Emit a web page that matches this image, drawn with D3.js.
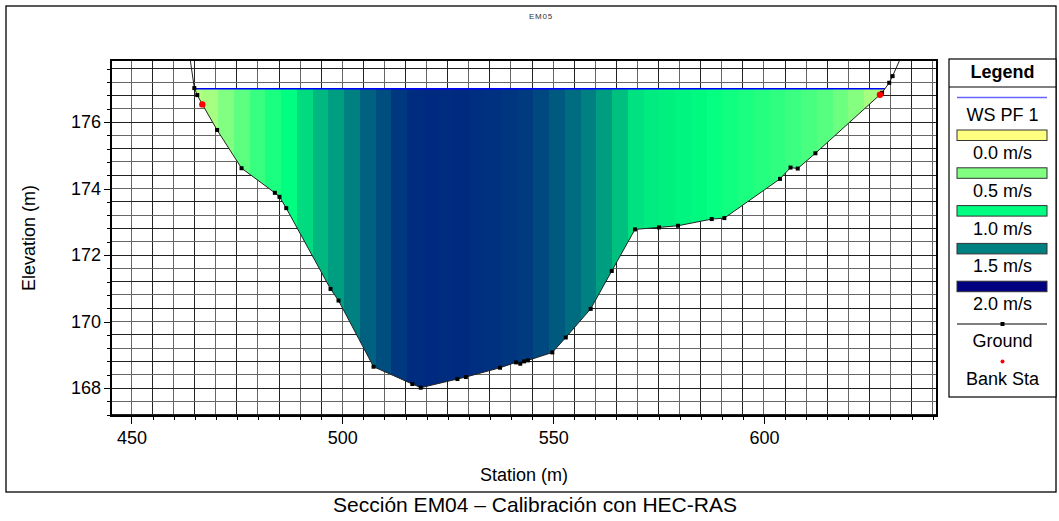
<!DOCTYPE html>
<html>
<head>
<meta charset="utf-8">
<script src="https://cdn.jsdelivr.net/npm/d3@7"></script>
<style>
  html, body { margin: 0; padding: 0; background: #fff; }
  svg { display: block; font-family: "Liberation Sans", Arial, sans-serif; }
</style>
</head>
<body>
<svg id="chart" width="1059" height="521"></svg>
<script>
// Cross-section EM04: ground survey points (station m, elevation m)
const groundStation = [463.1, 464.9, 465.6, 466.8, 470.3, 476.1, 484.0, 485.1, 486.7, 497.2,
  499.1, 507.4, 516.6, 518.6, 527.3, 529.3, 537.4, 541.2, 542.2, 543.1, 544.0, 549.8, 553.0,
  558.9, 563.9, 569.4, 575.1, 579.6, 587.6, 590.6, 603.8, 606.3, 608.0, 612.2, 627.5, 628.0,
  629.7, 630.5, 634.4];
const groundElev = [178.6, 177.02, 176.81, 176.53, 175.76, 174.61, 173.87, 173.75, 173.41, 170.98,
  170.63, 168.64, 168.12, 168.01, 168.27, 168.33, 168.61, 168.77, 168.73, 168.80, 168.83, 169.07, 169.52,
  170.38, 171.52, 172.77, 172.83, 172.88, 173.08, 173.11, 174.29, 174.63, 174.60, 175.06, 176.82, 176.88,
  177.18, 177.38, 178.5];

// Bank stations (left, right) and water surface for profile PF 1
const bankStations = [466.8, 627.5];
const waterSurface = 177.0;

// Velocity per flow slice: left overbank, 43 channel slices, right overbank (m/s)
const sliceVelocity = [0.30,
  0.35, 0.50, 0.64, 0.78, 0.90, 1.00, 1.14, 1.28, 1.38, 1.50, 1.62, 1.70, 1.78, 1.83, 1.84,
  1.83, 1.84, 1.82, 1.81, 1.79, 1.77, 1.72, 1.65, 1.58, 1.50, 1.38, 1.25, 1.12, 1.08, 1.06,
  1.04, 1.02, 0.98, 0.94, 0.90, 0.86, 0.82, 0.77, 0.72, 0.66, 0.58, 0.48, 0.35,
  0.15];

// Colour ramp stops
const rampValues = [0.0, 0.5, 1.0, 1.5, 2.0];
const rampColors = ["#ffff80", "#80ff80", "#00ff80", "#008080", "#000080"];

// Axis ticks
const xMajorTicks = [450, 500, 550, 600];
const yMajorTicks = [168, 170, 172, 174, 176];

const ground = groundStation.map((s, i) => ({ s, z: groundElev[i] }));

const svg = d3.select("#chart");
const plot = { left: 111, right: 937, top: 60, bottom: 416 };

const x = d3.scaleLinear().domain([445.14, 641.03]).range([plot.left, plot.right]);
const y = d3.scaleLinear().domain([167.158, 177.865]).range([plot.bottom, plot.top]);
const color = d3.scaleLinear().domain(rampValues).range(rampColors);

// outer frame
svg.append("rect").attr("x", 6).attr("y", 6).attr("width", 1050).attr("height", 486)
  .attr("fill", "none").attr("stroke", "#000").attr("stroke-width", 1.3);

// small title
svg.append("text").attr("x", 541).attr("y", 19).attr("text-anchor", "middle")
  .attr("font-size", 8).attr("letter-spacing", 0.8).attr("fill", "#333").text("EM05");

// clip for plot area
const defs = svg.append("defs");
defs.append("clipPath").attr("id", "plotClip").append("rect")
  .attr("x", plot.left).attr("y", plot.top)
  .attr("width", plot.right - plot.left).attr("height", plot.bottom - plot.top);

// grid
const grid = svg.append("g").attr("shape-rendering", "crispEdges");
const xGrid = d3.range(450, 641, 5);
const yGrid = d3.range(0, 27).map(i => +(167.2 + i * 0.4).toFixed(1)).filter(v => v < 177.86);
grid.selectAll(".vg").data(xGrid).join("line")
  .attr("x1", d => x(d)).attr("x2", d => x(d)).attr("y1", plot.top).attr("y2", plot.bottom)
  .attr("stroke", (d, i) => (i % 2 ? "#222" : "#666")).attr("stroke-width", 1);
grid.selectAll(".hg").data(yGrid).join("line")
  .attr("y1", d => y(d)).attr("y2", d => y(d)).attr("x1", plot.left).attr("x2", plot.right)
  .attr("stroke", (d, i) => (i % 2 ? "#666" : "#222")).attr("stroke-width", 1);

// water polygon: ground below water surface, closed along the WS line
function crossing(a, b, z) {
  const t = (z - a.z) / (b.z - a.z);
  return a.s + t * (b.s - a.s);
}
let leftEdge = null, rightEdge = null;
for (let i = 0; i < ground.length - 1; i++) {
  const a = ground[i], b = ground[i + 1];
  if (leftEdge === null && a.z >= waterSurface && b.z < waterSurface) leftEdge = crossing(a, b, waterSurface);
  if (a.z < waterSurface && b.z >= waterSurface) rightEdge = crossing(a, b, waterSurface);
}
const wetPts = [{ s: leftEdge, z: waterSurface }]
  .concat(ground.filter(p => p.s > leftEdge && p.s < rightEdge))
  .concat([{ s: rightEdge, z: waterSurface }]);
const line = d3.line().x(p => x(p.s)).y(p => y(p.z));
defs.append("clipPath").attr("id", "waterClip").append("path").attr("d", line(wetPts) + "Z");

// slice boundaries: overbanks + equal channel slices between bank stations
const nChannel = sliceVelocity.length - 2;
const chanW = (bankStations[1] - bankStations[0]) / nChannel;
const slices = sliceVelocity.map((v, i) => {
  let s0, s1;
  if (i === 0) { s0 = leftEdge; s1 = bankStations[0]; }
  else if (i === sliceVelocity.length - 1) { s0 = bankStations[1]; s1 = rightEdge; }
  else { s0 = bankStations[0] + (i - 1) * chanW; s1 = s0 + chanW; }
  return { s0, s1, v };
});
const minZ = d3.min(wetPts, p => p.z);
svg.append("g").attr("clip-path", "url(#waterClip)")
  .selectAll("rect").data(slices).join("rect")
  .attr("x", d => x(d.s0)).attr("width", d => x(d.s1) - x(d.s0) + 0.6)
  .attr("y", y(waterSurface)).attr("height", y(minZ) - y(waterSurface) + 2)
  .attr("fill", d => color(d.v)).attr("shape-rendering", "crispEdges");

// water surface line
svg.append("line")
  .attr("x1", x(leftEdge)).attr("x2", x(rightEdge))
  .attr("y1", y(waterSurface)).attr("y2", y(waterSurface))
  .attr("stroke", "#0000ff").attr("stroke-width", 1.5);

// ground line and points
const gp = svg.append("g").attr("clip-path", "url(#plotClip)");
gp.append("path").attr("d", line(ground)).attr("fill", "none")
  .attr("stroke", "#222").attr("stroke-width", 1);
gp.selectAll(".gpt").data(ground).join("rect")
  .attr("x", d => x(d.s) - 2).attr("y", d => y(d.z) - 2)
  .attr("width", 4).attr("height", 4).attr("fill", "#000");

// bank stations
function groundAt(s) {
  for (let i = 0; i < ground.length - 1; i++) {
    const a = ground[i], b = ground[i + 1];
    if (s >= a.s && s <= b.s) return a.z + (s - a.s) / (b.s - a.s) * (b.z - a.z);
  }
  return null;
}
gp.selectAll(".bank").data(bankStations).join("circle")
  .attr("cx", d => x(d)).attr("cy", d => y(groundAt(d))).attr("r", 3.2)
  .attr("fill", "#ff0000");

// axes
const axisFont = 18;
const yMinor = yGrid.filter(v => yMajorTicks.indexOf(v) < 0);
const yAxisMinor = svg.append("g").attr("transform", `translate(${plot.left},0)`)
  .call(d3.axisLeft(y).tickValues(yMinor).tickSize(4).tickFormat(""));
const yAxisMajor = svg.append("g").attr("transform", `translate(${plot.left},0)`)
  .call(d3.axisLeft(y).tickValues(yMajorTicks).tickSize(7).tickPadding(3).tickFormat(d3.format("d")));
const xMinor = xGrid.filter(v => xMajorTicks.indexOf(v) < 0);
const xAxisMinor = svg.append("g").attr("transform", `translate(0,${plot.bottom})`)
  .call(d3.axisBottom(x).tickValues(xMinor).tickSize(4).tickFormat(""));
const xAxisMajor = svg.append("g").attr("transform", `translate(0,${plot.bottom})`)
  .call(d3.axisBottom(x).tickValues(xMajorTicks).tickSize(8).tickPadding(7).tickFormat(d3.format("d")));
[yAxisMinor, yAxisMajor, xAxisMinor, xAxisMajor].forEach(g => {
  g.select(".domain").remove();
  g.selectAll("line").attr("stroke", "#000").attr("shape-rendering", "crispEdges");
  g.selectAll("text").attr("font-size", axisFont).attr("fill", "#000")
    .attr("font-family", "'Liberation Sans', Arial, sans-serif");
});

// plot border
svg.append("rect").attr("x", plot.left).attr("y", plot.top)
  .attr("width", plot.right - plot.left).attr("height", plot.bottom - plot.top)
  .attr("fill", "none").attr("stroke", "#000").attr("stroke-width", 2);

// axis titles
svg.append("text").attr("x", (plot.left + plot.right) / 2).attr("y", 481)
  .attr("text-anchor", "middle").attr("font-size", 18).text("Station (m)");
svg.append("text").attr("transform", `translate(35,${(plot.top + plot.bottom) / 2}) rotate(-90)`)
  .attr("text-anchor", "middle").attr("font-size", 18).text("Elevation (m)");

// caption
svg.append("text").attr("x", 535).attr("y", 512).attr("text-anchor", "middle")
  .attr("font-size", 21).text("Sección EM04 – Calibración con HEC-RAS");

// legend
const lg = svg.append("g");
const L = { x0: 949, x1: 1056, y0: 59, y1: 397 };
const lc = (L.x0 + L.x1) / 2;
lg.append("rect").attr("x", L.x0).attr("y", L.y0).attr("width", L.x1 - L.x0).attr("height", L.y1 - L.y0)
  .attr("fill", "#fff").attr("stroke", "#000").attr("stroke-width", 1.2);
lg.append("text").attr("x", lc).attr("y", 78).attr("text-anchor", "middle")
  .attr("font-size", 18).attr("font-weight", "bold").text("Legend");
lg.append("line").attr("x1", L.x0).attr("x2", L.x1).attr("y1", 87).attr("y2", 87)
  .attr("stroke", "#000").attr("stroke-width", 1);
lg.append("line").attr("x1", 957).attr("x2", 1047).attr("y1", 97.5).attr("y2", 97.5)
  .attr("stroke", "#6666ff").attr("stroke-width", 1.5);
lg.append("text").attr("x", lc).attr("y", 121).attr("text-anchor", "middle")
  .attr("font-size", 18).text("WS PF 1");
const legendRamp = rampValues.map((v, i) => ({ v, c: rampColors[i] }));
lg.selectAll(".sw").data(legendRamp).join("rect")
  .attr("x", 957).attr("width", 90).attr("y", (d, i) => 130 + i * 37.8).attr("height", 10.5)
  .attr("fill", d => d.c).attr("stroke", "#333").attr("stroke-width", 1);
lg.selectAll(".swt").data(legendRamp).join("text")
  .attr("x", lc).attr("y", (d, i) => 159 + i * 37.8).attr("text-anchor", "middle")
  .attr("font-size", 18).text(d => d.v.toFixed(1) + " m/s");
lg.append("line").attr("x1", 957).attr("x2", 1047).attr("y1", 324).attr("y2", 324)
  .attr("stroke", "#000").attr("stroke-width", 1);
lg.append("rect").attr("x", lc - 2).attr("y", 322).attr("width", 4).attr("height", 4).attr("fill", "#000");
lg.append("text").attr("x", lc).attr("y", 347).attr("text-anchor", "middle")
  .attr("font-size", 18).text("Ground");
lg.append("circle").attr("cx", lc).attr("cy", 361.5).attr("r", 2).attr("fill", "#ff0000");
lg.append("text").attr("x", lc).attr("y", 385).attr("text-anchor", "middle")
  .attr("font-size", 18).text("Bank Sta");
</script>
</body>
</html>
